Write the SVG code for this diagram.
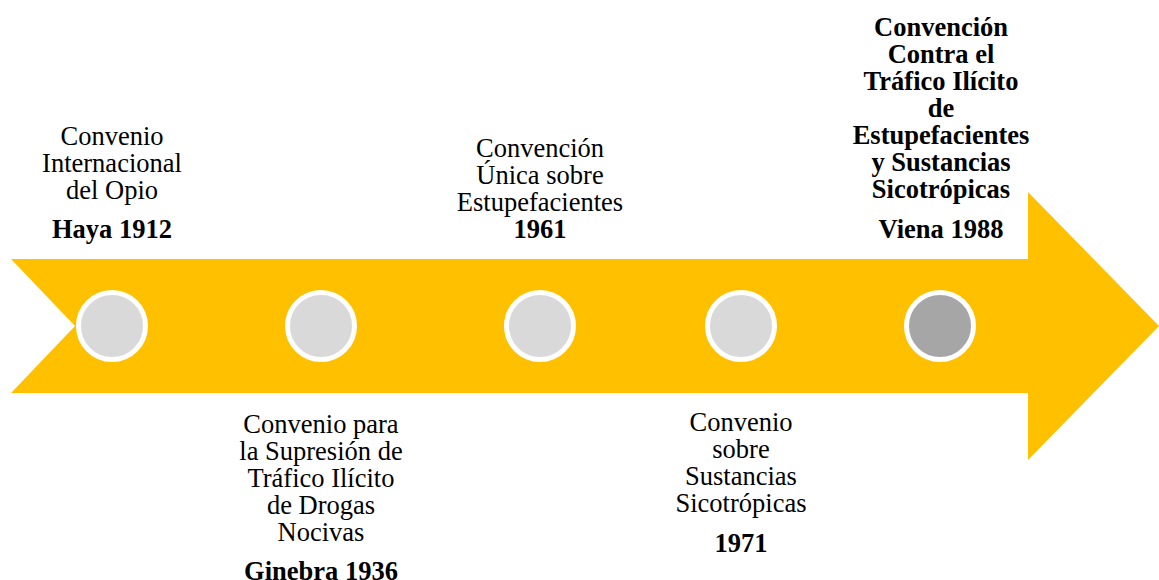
<svg xmlns="http://www.w3.org/2000/svg" width="1159" height="580" viewBox="0 0 1159 580">
<style>
.t{font-family:"Liberation Serif","Times New Roman",serif;font-size:26.5px;fill:#000;text-anchor:middle}
.b{font-weight:bold}
.ring{stroke:#fff;stroke-width:5}
</style>
<rect width="1159" height="580" fill="#fff"/>
<g id="arrow">
<polygon points="11,259 1028,259 1028,192 1159,326 1028,460 1028,393 11,393 75,326" fill="#ffc000"/>
</g>
<g id="n1">
<circle class="ring" cx="112" cy="326" r="33.5" fill="#d9d9d9"/>
<text class="t" x="112"><tspan x="112" y="145">Convenio</tspan><tspan x="112" y="172">Internacional</tspan><tspan x="112" y="199">del Opio</tspan><tspan class="b" x="112" y="238">Haya 1912</tspan></text>
</g>
<g id="n2">
<circle class="ring" cx="321" cy="326" r="33.5" fill="#d9d9d9"/>
<text class="t" x="321"><tspan x="321" y="433">Convenio para</tspan><tspan x="321" y="460">la Supresión de</tspan><tspan x="321" y="487">Tráfico Ilícito</tspan><tspan x="321" y="514">de Drogas</tspan><tspan x="321" y="541">Nocivas</tspan><tspan class="b" x="321" y="580">Ginebra 1936</tspan></text>
</g>
<g id="n3">
<circle class="ring" cx="540" cy="326" r="33.5" fill="#d9d9d9"/>
<text class="t" x="540"><tspan x="540" y="157">Convención</tspan><tspan x="540" y="184">Única sobre</tspan><tspan x="540" y="211">Estupefacientes</tspan><tspan class="b" x="540" y="238">1961</tspan></text>
</g>
<g id="n4">
<circle class="ring" cx="741" cy="326" r="33.5" fill="#d9d9d9"/>
<text class="t" x="741"><tspan x="741" y="431">Convenio</tspan><tspan x="741" y="458">sobre</tspan><tspan x="741" y="485">Sustancias</tspan><tspan x="741" y="512">Sicotrópicas</tspan><tspan class="b" x="741" y="552">1971</tspan></text>
</g>
<g id="n5">
<circle class="ring" cx="940" cy="326" r="33.5" fill="#a6a6a6"/>
<text class="t b" x="941"><tspan x="941" y="36">Convención</tspan><tspan x="941" y="63">Contra el</tspan><tspan x="941" y="90">Tráfico Ilícito</tspan><tspan x="941" y="117">de</tspan><tspan x="941" y="144">Estupefacientes</tspan><tspan x="941" y="171">y Sustancias</tspan><tspan x="941" y="198">Sicotrópicas</tspan><tspan x="941" y="238">Viena 1988</tspan></text>
</g>
<g id="connectors"></g>
</svg>
